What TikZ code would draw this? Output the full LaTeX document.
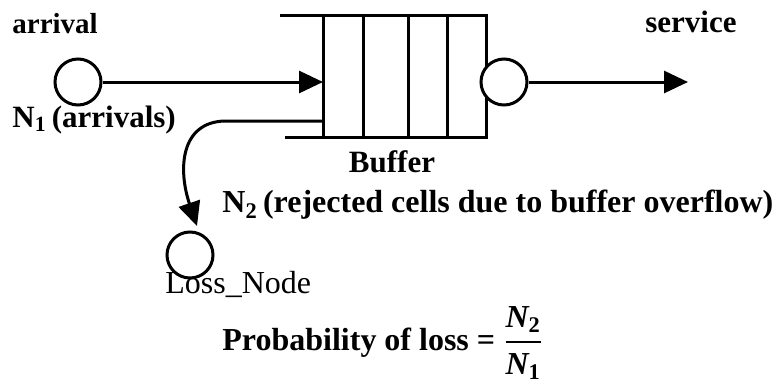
\documentclass[tikz,border=0pt]{standalone}
\usepackage{amsmath}
\usepackage{fontspec}
\setmainfont{Liberation Serif}
\usepackage{tikz}
\usetikzlibrary{arrows.meta,calc,positioning}

\tikzset{
  queue/.style={circle,draw,line width=1.5pt,minimum size=23pt,inner sep=0pt},
  flow/.style={line width=1.5pt,-{Triangle[length=12pt,width=11pt]}},
  wall/.style={line width=1.5pt},
  lbl/.style={font=\fontsize{15.5}{18}\selectfont\bfseries,inner sep=0pt}
}

\begin{document}
\begin{tikzpicture}[x=0.5pt,y=-0.5pt]
  \useasboundingbox (0,0) rectangle (782,386);
  % buffer
  \draw[wall] (280,15) -- (486,15) -- (486,137) -- (285,137);
  \foreach \xc in {323,363,408,447}
    \draw[wall] (\xc,17) -- (\xc,137);
  \coordinate (bufin) at (323,82);
  \coordinate (bufrej) at (323,121);
  \node[lbl] (buflabel) at (392,162) {Buffer};
  % nodes
  \node[queue] (arrivalnode) at (78,82) {};
  \node[queue,fill=white] (servicenode) at (504,82) {};
  \node[queue] (lossnode) at (190,255) {};
  \coordinate (out) at (688,82);
  \coordinate (losstip) at (197,226);
  % connectors
  \draw[flow] (arrivalnode) -- (bufin);
  \draw[flow] (servicenode) -- (out);
  \draw[flow] (bufrej) -- (225,121) .. controls (180,122) and (178,170) .. (losstip);
  % labels
  \node[lbl,anchor=west,font=\fontsize{14.5}{17}\selectfont\bfseries] at (12,24) {arrival};
  \node[lbl,anchor=west] at (645,22) {service};
  \node[lbl,anchor=west] at (12,120) {N\textsubscript{1}\,(arrivals)};
  \node[lbl,anchor=west,font=\fontsize{16}{18}\selectfont\bfseries] at (222,205) {N\textsubscript{2}\,(rejected cells due to buffer overflow)};
  \node[lbl,anchor=west,font=\fontsize{16}{18}\selectfont] at (165,284) {Loss\_Node};
  \node[lbl,anchor=west,font=\fontsize{16}{18}\selectfont\bfseries] at (222,343)
    {Probability of loss = $\dfrac{\textit{N}_{\text{2}}}{\textit{N}_{\text{1}}}$};
\end{tikzpicture}
\end{document}
